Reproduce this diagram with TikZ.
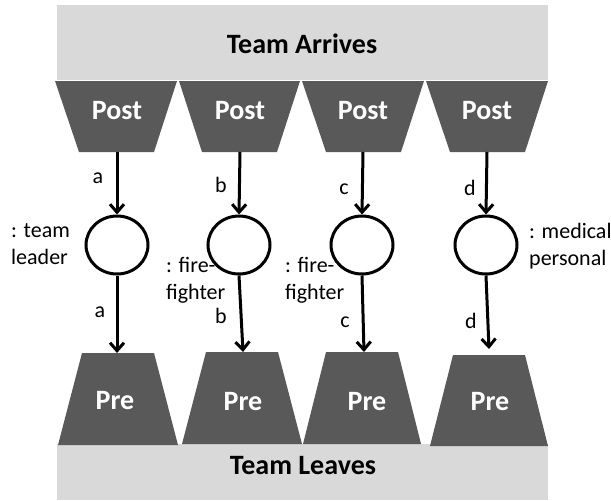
\documentclass[tikz,border=0pt]{standalone}
\usepackage{fontspec}
\setmainfont{Carlito}
\usetikzlibrary{arrows.meta,shapes.geometric}
\definecolor{lightbox}{HTML}{D9D9D9}
\definecolor{darkbox}{HTML}{595959}
\tikzset{
  bandbox/.style={fill=lightbox,draw=none},
  bandtext/.style={font=\fontsize{28}{32}\selectfont\bfseries,text=black},
  traptext/.style={font=\fontsize{28}{32}\selectfont\bfseries,text=white},
  role/.style={draw=black,line width=3pt,ellipse,minimum width=62pt,minimum height=58pt,inner sep=0pt},
  flow/.style={line width=3pt,-{Straight Barb[length=8pt,width=14pt,line width=3pt]}},
  lbl/.style={font=\fontsize{22}{27}\selectfont,text=black,inner sep=0pt},
  rlbl/.style={font=\fontsize{22}{27}\selectfont,text=black,inner sep=0pt,align=left,anchor=north west},
}
\begin{document}
\begin{tikzpicture}[x=1pt,y=-1pt]
\useasboundingbox (0,0) rectangle (611,501);
% bands
\fill[bandbox] (57,5) rectangle (548,80);
\node[bandtext] (arr) at (302,44) {Team Arrives};
\fill[bandbox] (57,444) rectangle (548,500);
\node[bandtext] (lea) at (303,466) {Team Leaves};
% post trapezoids
\fill[darkbox] (55,81) -- (177,81) -- (154,152) -- (79,152) -- cycle;
\fill[darkbox] (179,81) -- (300,81) -- (277,152) -- (202,152) -- cycle;
\fill[darkbox] (302,81) -- (424,81) -- (401,152) -- (326,152) -- cycle;
\fill[darkbox] (426,81) -- (548,81) -- (525,152) -- (450,152) -- cycle;
\node[traptext] (post1) at (117,111) {Post};
\node[traptext] (post2) at (240,111) {Post};
\node[traptext] (post3) at (363,111) {Post};
\node[traptext] (post4) at (487,111) {Post};
\coordinate (p1) at (117,152);
\coordinate (p2) at (240,152);
\coordinate (p3) at (363,152);
\coordinate (p4) at (487,152);
% pre trapezoids
\fill[darkbox] (82,353) -- (154,353) -- (178,445) -- (58,445) -- cycle;
\fill[darkbox] (206,352) -- (278,352) -- (302,444) -- (182,444) -- cycle;
\fill[darkbox] (326,352) -- (398,352) -- (421,444) -- (303,444) -- cycle;
\fill[darkbox] (453,355) -- (525,355) -- (548,446) -- (430,446) -- cycle;
\node[traptext] (pre1) at (115,401) {Pre};
\node[traptext] (pre2) at (243,402) {Pre};
\node[traptext] (pre3) at (367,402) {Pre};
\node[traptext] (pre4) at (490,402) {Pre};
\coordinate (q1) at (117,353);
\coordinate (q2) at (243,352);
\coordinate (q3) at (364,352);
\coordinate (q4) at (489,349);
% roles
\node[role] (c1) at (117,245) {};
\node[role] (c2) at (239,245) {};
\node[role] (c3) at (362,245) {};
\node[role] (c4) at (486,245) {};
% arrows
\draw[flow] (p1) -- (c1.north);
\draw[flow] (p2) -- (c2.north);
\draw[flow] (p3) -- (c3.north);
\draw[flow] (p4) -- (c4.north);
\draw[flow] (c1.south) -- (q1);
\draw[flow] (c2.south) -- (q2);
\draw[flow] (c3.south) -- (q3);
\draw[flow] (c4.south) -- (q4);
% edge labels
\node[lbl] (la1) at (98,178) {a};
\node[lbl] (lb1) at (221,185) {b};
\node[lbl] (lc1) at (344,189) {c};
\node[lbl] (ld1) at (470,188) {d};
\node[lbl] (la2) at (100,312) {a};
\node[lbl] (lb2) at (221,316) {b};
\node[lbl] (lc2) at (345,322) {c};
\node[lbl] (ld2) at (471,321) {d};
% role labels
\node[rlbl] (r1) at (11,222) {\vphantom{l}: team\\leader};
\node[rlbl] (r2) at (166,257) {\vphantom{l}: fire-\\fighter};
\node[rlbl] (r3) at (285,257) {\vphantom{l}: fire-\\fighter};
\node[rlbl] (r4) at (529,223) {\vphantom{l}: medical\\personal};
\end{tikzpicture}
\end{document}
